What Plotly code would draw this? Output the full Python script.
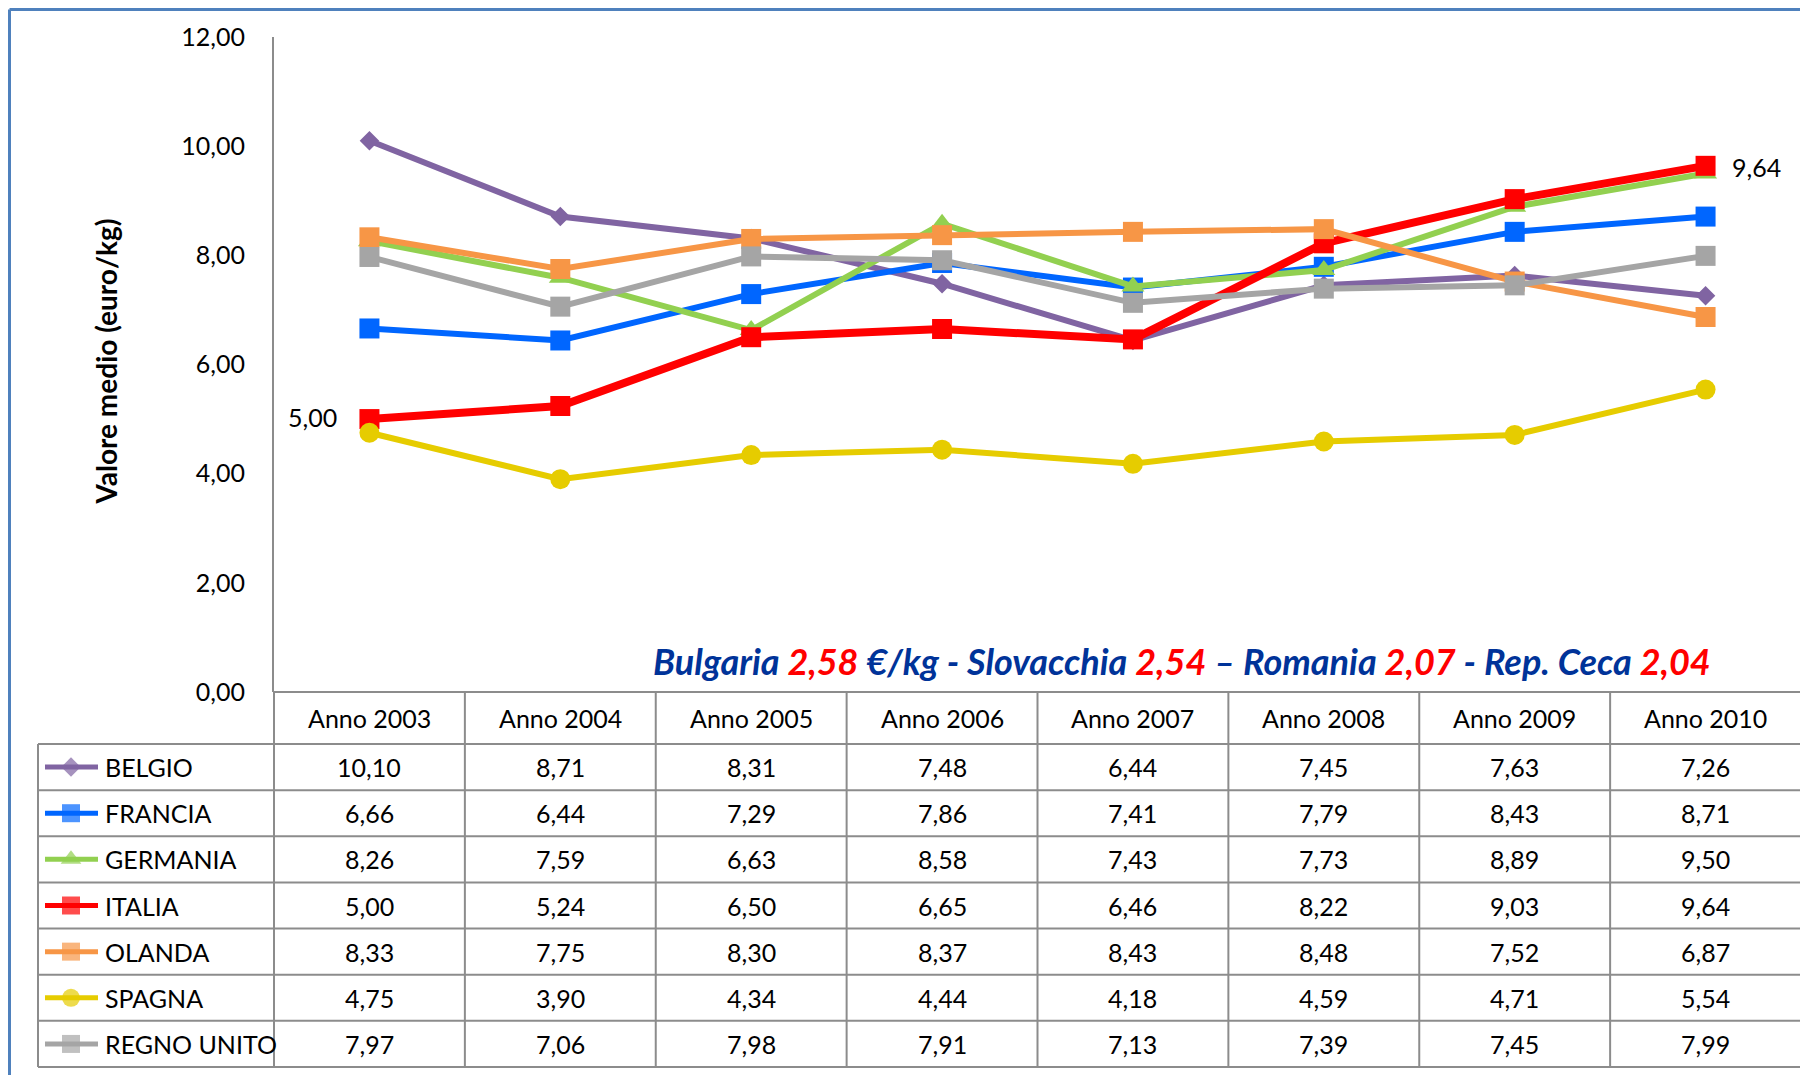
import plotly.graph_objects as go

W, H = 1808, 1075

anni = ["Anno 2003", "Anno 2004", "Anno 2005", "Anno 2006",
        "Anno 2007", "Anno 2008", "Anno 2009", "Anno 2010"]

paesi = ["BELGIO", "FRANCIA", "GERMANIA", "ITALIA", "OLANDA", "SPAGNA", "REGNO UNITO"]

belgio = [10.10, 8.71, 8.31, 7.48, 6.44, 7.45, 7.63, 7.26]
francia = [6.66, 6.44, 7.29, 7.86, 7.41, 7.79, 8.43, 8.71]
germania = [8.26, 7.59, 6.63, 8.58, 7.43, 7.73, 8.89, 9.50]
italia = [5.00, 5.24, 6.50, 6.65, 6.46, 8.22, 9.03, 9.64]
olanda = [8.33, 7.75, 8.30, 8.37, 8.43, 8.48, 7.52, 6.87]
spagna = [4.75, 3.90, 4.34, 4.44, 4.18, 4.59, 4.71, 5.54]
regno_unito = [7.97, 7.06, 7.98, 7.91, 7.13, 7.39, 7.45, 7.99]

serie = [belgio, francia, germania, italia, olanda, spagna, regno_unito]

colori = ["#8064A2", "#0066FF", "#92D050", "#FF0000", "#F79646", "#E6CC00", "#A5A5A5"]
simboli = ["diamond", "square", "triangle-up", "square", "square", "circle", "square"]

nota_paesi = ["Bulgaria", "Slovacchia", "Romania", "Rep. Ceca"]
nota_valori = ["2,58", "2,54", "2,07", "2,04"]

FONT = "Lato"
GRID = "#8C8C8C"

# page layout in screen pixels (the page body adds an 8px margin)
OFF = 8
X_LAB, X_AX, X_END = 38, 274, 1801
Y_TOP, Y_AX, Y_HEAD, Y_BOT = 37, 692, 744, 1067
ROW_H = (Y_BOT - Y_HEAD) / len(paesi)
COL_W = (X_END - X_AX) / len(anni)


def px(x):
    return (x - OFF) / W


def py(y):
    return 1 - (y - OFF) / H


def fmt(v):
    return f"{v:.2f}".replace(".", ",")


fig = go.Figure()

for nome, vals, col, sym in zip(paesi, serie, colori, simboli):
    fig.add_trace(go.Scatter(
        x=anni, y=vals, name=nome, mode="lines+markers",
        line=dict(color=col, width=8 if nome == "ITALIA" else 6),
        marker=dict(symbol=sym, size=15 if sym == "diamond" else 20, color=col,
                    line=dict(width=0)),
        showlegend=False,
    ))

# legend keys inside the table, drawn on a pixel overlay axis
for i, (col, sym) in enumerate(zip(colori, simboli)):
    yc = Y_HEAD + ROW_H * (i + 0.5) - OFF
    fig.add_trace(go.Scatter(
        x=[45 - OFF, 71 - OFF, 98 - OFF], y=[yc, yc, yc], xaxis="x2", yaxis="y2",
        mode="lines+markers",
        line=dict(color=col, width=5),
        marker=dict(symbol=sym, size=[0, 15 if sym == "diamond" else 18, 0],
                    color=col, line=dict(width=0)),
        showlegend=False, hoverinfo="skip",
    ))

shapes = []
line = dict(color=GRID, width=2)
# chart border (left/top visible)
border = dict(color="#4F81BD", width=3)
shapes.append(dict(type="line", xref="paper", yref="paper",
                   x0=1.5 / W, x1=1, y0=1 - 1.5 / H, y1=1 - 1.5 / H, line=border))
shapes.append(dict(type="line", xref="paper", yref="paper",
                   x0=1.5 / W, x1=1.5 / W, y0=1 - 1.5 / H, y1=0, line=border))
# table horizontal lines
shapes.append(dict(type="line", xref="paper", yref="paper",
                   x0=px(X_AX), x1=px(X_END), y0=py(Y_AX), y1=py(Y_AX), line=line))
for i in range(len(paesi) + 1):
    yy = Y_HEAD + ROW_H * i
    shapes.append(dict(type="line", xref="paper", yref="paper",
                       x0=px(X_LAB), x1=px(X_END), y0=py(yy), y1=py(yy), line=line))
# table vertical lines
shapes.append(dict(type="line", xref="paper", yref="paper",
                   x0=px(X_LAB), x1=px(X_LAB), y0=py(Y_HEAD), y1=py(Y_BOT), line=line))
shapes.append(dict(type="line", xref="paper", yref="paper",
                   x0=px(X_AX), x1=px(X_AX), y0=py(Y_AX), y1=py(Y_BOT), line=line))
for j in range(1, len(anni) + 1):
    xx = X_AX + COL_W * j
    shapes.append(dict(type="line", xref="paper", yref="paper",
                       x0=px(xx), x1=px(xx), y0=py(Y_AX), y1=py(Y_BOT), line=line))

ann = []
cell_font = dict(family=FONT, size=25, color="#000000")
for j, a in enumerate(anni):
    xc = X_AX + COL_W * (j + 0.5)
    ann.append(dict(text=a, x=px(xc), y=py((Y_AX + Y_HEAD) / 2), xref="paper", yref="paper",
                    showarrow=False, font=cell_font, xanchor="center", yanchor="middle"))
for i, (nome, vals) in enumerate(zip(paesi, serie)):
    yc = Y_HEAD + ROW_H * (i + 0.5)
    ann.append(dict(text=nome, x=px(103), y=py(yc), xref="paper", yref="paper",
                    showarrow=False, font=cell_font, xanchor="left", yanchor="middle"))
    for j, v in enumerate(vals):
        xc = X_AX + COL_W * (j + 0.5)
        ann.append(dict(text=fmt(v), x=px(xc), y=py(yc), xref="paper", yref="paper",
                        showarrow=False, font=cell_font, xanchor="center", yanchor="middle"))

# data labels on ITALIA
ann.append(dict(text=fmt(italia[0]), x=anni[0], y=italia[0], xref="x", yref="y",
                showarrow=False, xanchor="right", xshift=-30, yshift=2,
                font=dict(family=FONT, size=25, color="#000000")))
ann.append(dict(text=fmt(italia[-1]), x=anni[-1], y=italia[-1], xref="x", yref="y",
                showarrow=False, xanchor="left", xshift=24, yshift=-1,
                font=dict(family=FONT, size=25, color="#000000")))

# y-axis title
ann.append(dict(text="<b>Valore medio (euro/kg)</b>", x=px(106), y=py((Y_TOP + Y_AX) / 2 - 3),
                xref="paper", yref="paper", showarrow=False, textangle=-90,
                font=dict(family=FONT, size=28, color="#000000"),
                xanchor="center", yanchor="middle"))

# note on eastern countries
BLU, ROSSO = "#003399", "#FF0000"
seps = [" €/kg - ", " – ", " - ", ""]
parts = []
for p, v, s in zip(nota_paesi, nota_valori, seps):
    parts.append(f"<span style='color:{BLU}'>{p} </span><span style='color:{ROSSO}'>{v}</span>"
                 f"<span style='color:{BLU}'>{s}</span>")
ann.append(dict(text="<b><i>" + "".join(parts) + "</i></b>", x=px(1713), y=py(661),
                xref="paper", yref="paper", showarrow=False, xanchor="right", yanchor="middle",
                font=dict(family=FONT, size=36, color=BLU)))

fig.update_layout(
    template="none",
    width=W, height=H, autosize=False,
    margin=dict(l=0, r=0, t=0, b=0, pad=0, autoexpand=False),
    paper_bgcolor="white", plot_bgcolor="rgba(0,0,0,0)",
    separators=",.",
    showlegend=False,
    font=dict(family=FONT, size=25, color="#000000"),
    xaxis=dict(domain=[px(X_AX), px(X_END)], type="category", range=[-0.5, len(anni) - 0.5],
               showticklabels=False, showgrid=False, zeroline=False, showline=False,
               ticks="", automargin=False, fixedrange=True),
    yaxis=dict(domain=[py(Y_AX), py(Y_TOP)], range=[0, 12], dtick=2, tickformat=".2f",
               showgrid=False, zeroline=False, showline=True, linecolor=GRID, linewidth=2,
               ticks="", ticklabelstandoff=22, tickfont=dict(family=FONT, size=25),
               automargin=False, fixedrange=True),
    xaxis2=dict(domain=[0, 1], range=[0, W], visible=False, anchor="y2",
                automargin=False, fixedrange=True),
    yaxis2=dict(domain=[0, 1], range=[H, 0], visible=False, anchor="x2",
                automargin=False, fixedrange=True),
    shapes=shapes,
    annotations=ann,
)

fig.write_html("out.html")
